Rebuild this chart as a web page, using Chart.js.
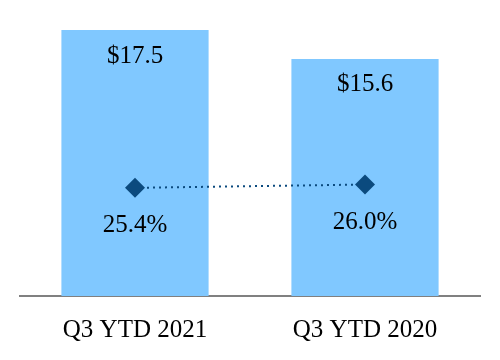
<!DOCTYPE html>
<html><head><meta charset="utf-8">
<script src="https://cdn.jsdelivr.net/npm/chart.js@4/dist/chart.umd.min.js"></script>
<style>html,body{margin:0;padding:0;background:#fff}#wrap{width:500px;height:360px}</style>
</head><body><div id="wrap"><canvas id="c" width="500" height="360"></canvas></div>
<script>
const categories = ['Q3 YTD 2021', 'Q3 YTD 2020'];
const revenue = [17.5, 15.6];
const marginPct = [25.4, 26.0];

const labelPlugin = {
  id: 'labels',
  afterDatasetsDraw(chart) {
    const ctx = chart.ctx;
    ctx.save();
    ctx.fillStyle = '#000';
    ctx.font = '25px "Liberation Serif", "Times New Roman", serif';
    ctx.textAlign = 'center';
    ctx.textBaseline = 'middle';
    chart.getDatasetMeta(0).data.forEach((bar, i) => {
      ctx.fillText('$' + revenue[i].toFixed(1), bar.x, bar.y + 26);
    });
    chart.getDatasetMeta(1).data.forEach((pt, i) => {
      ctx.fillText(marginPct[i].toFixed(1) + '%', pt.x, pt.y + 38);
    });
    ctx.restore();
  }
};

new Chart(document.getElementById('c'), {
  data: {
    labels: categories,
    datasets: [
      { type: 'bar', data: revenue, backgroundColor: '#80C8FF', barPercentage: 0.64, categoryPercentage: 1, yAxisID: 'y', order: 2 },
      { type: 'line', data: marginPct, yAxisID: 'y2', borderColor: '#0B4A7E', borderWidth: 2, borderDash: [2, 4],
        pointStyle: 'rectRot', pointRadius: 10, pointBackgroundColor: '#0B4A7E', pointBorderColor: '#0B4A7E', pointBorderWidth: 0, order: 1, tension: 0 }
    ]
  },
  options: {
    responsive: false, animation: false,
    layout: { padding: { left: 20, right: 20, top: 30, bottom: 4 } },
    plugins: { legend: { display: false }, tooltip: { enabled: false } },
    scales: {
      x: { grid: { display: false }, border: { display: true, color: '#808080', width: 2 },
           ticks: { color: '#000', padding: 11, font: { family: '"Liberation Serif", "Times New Roman", serif', size: 25 } } },
      y: { display: false, min: 0, max: 17.5 },
      y2: { display: false, min: 5.8, max: 54 }
    }
  },
  plugins: [labelPlugin]
});
</script></body></html>
